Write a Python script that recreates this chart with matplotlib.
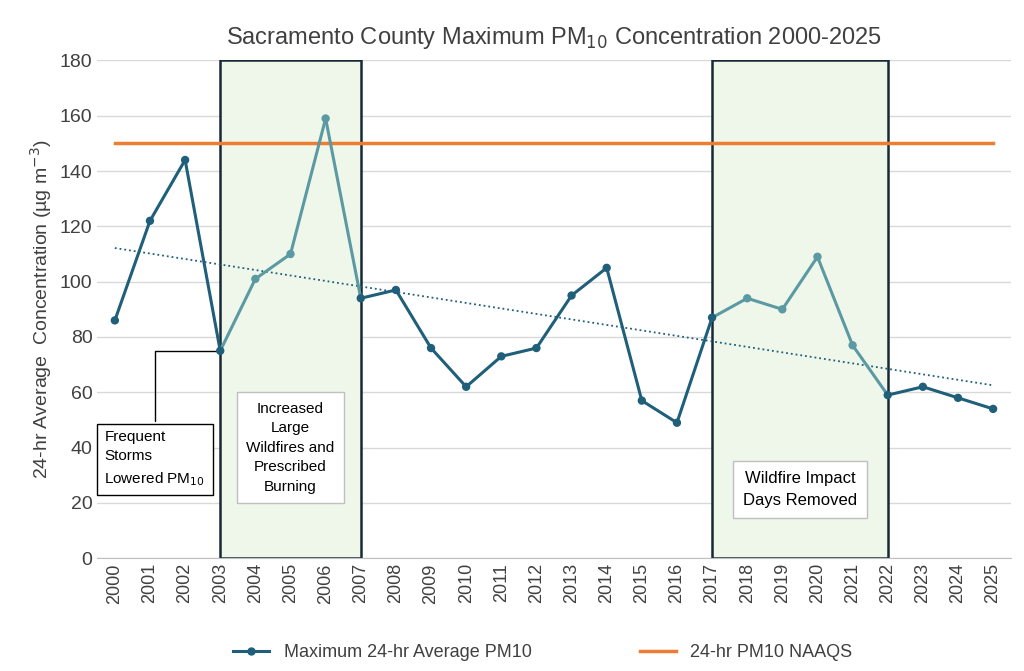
import numpy as np
import matplotlib.pyplot as plt
from matplotlib.patches import Rectangle

years = list(range(2000, 2026))
pm10 = [86, 122, 144, 75, 101, 110, 159, 94, 97, 76, 62, 73, 76, 95, 105,
        57, 49, 87, 94, 90, 109, 77, 59, 62, 58, 54]
naaqs = 150
shaded = [(2003, 2007), (2017, 2022)]

dark = '#1f5f7a'
light = '#5b9aa3'
orange = '#ed7d31'

plt.rcParams['font.family'] = ['Liberation Sans', 'DejaVu Sans']
fig = plt.figure(figsize=(10.24, 6.71), dpi=100)
ax = fig.add_axes([0.095, 0.168, 0.892, 0.742])

x = np.arange(len(years))
for i in range(len(years) - 1):
    y0 = years[i]
    inside = any(a <= y0 and y0 + 1 <= b for a, b in shaded)
    ax.plot(x[i:i + 2], pm10[i:i + 2], color=light if inside else dark, lw=2.2, zorder=3)
cols = [light if any(a < y < b for a, b in shaded) else dark for y in years]
ax.scatter(x, pm10, s=25, color=cols, zorder=4)
ax.plot([], [], color=dark, lw=2.2, marker='o', ms=5, label='Maximum 24-hr Average PM10')

ax.plot([x[0], x[-1]], [naaqs, naaqs], color=orange, lw=2.5, zorder=2, label='24-hr PM10 NAAQS')

k, b = np.polyfit(x, pm10, 1)
ax.plot(x, k * x + b, ':', color=dark, lw=1.3, zorder=2)

for a, bb in shaded:
    ax.add_patch(Rectangle((years.index(a), 0), bb - a, 180, facecolor='#eef7ea',
                           edgecolor='#152a36', lw=1.8, zorder=1))

ax.set_xlim(-0.5, len(years) - 0.5)
ax.set_ylim(0, 180)
ax.set_yticks(range(0, 181, 20))
ax.set_xticks(x)
ax.set_xticklabels(years, rotation=90, fontsize=13, color='#404040')
ax.tick_params(axis='y', labelsize=14, colors='#404040', length=0)
ax.tick_params(axis='x', length=0)
ax.grid(axis='y', color='#d9d9d9', lw=1)
ax.set_axisbelow(True)
for s in ['top', 'right', 'left']:
    ax.spines[s].set_visible(False)
ax.spines['bottom'].set_color('#bfbfbf')
ax.set_ylabel('24-hr Average  Concentration (µg m$^{-3}$)', fontsize=14, color='#404040')
ax.set_title('Sacramento County Maximum PM$_{10}$ Concentration 2000-2025',
             fontsize=17, color='#404040', pad=12)

box = dict(boxstyle='square,pad=0.5', facecolor='white', edgecolor='black', lw=1)
ax.annotate('Frequent\nStorms\nLowered PM$_{10}$', xy=(3, 75), xytext=(-0.3, 36),
            fontsize=11, ha='left', va='center', bbox=box, linespacing=1.5,
            arrowprops=dict(arrowstyle='-', color='black', lw=1,
                            connectionstyle='angle,angleA=90,angleB=0'))
ax.text(5.0, 40, 'Increased\nLarge\nWildfires and\nPrescribed\nBurning', fontsize=11,
        ha='center', va='center', linespacing=1.5,
        bbox=dict(boxstyle='square,pad=0.6', facecolor='white', edgecolor='#bfbfbf', lw=1))
ax.text(19.5, 25, 'Wildfire Impact\nDays Removed', fontsize=12, ha='center', va='center',
        linespacing=1.6,
        bbox=dict(boxstyle='square,pad=0.6', facecolor='white', edgecolor='#bfbfbf', lw=1))

fig.legend(loc='lower center', ncol=2, frameon=False, fontsize=13, columnspacing=6,
           bbox_to_anchor=(0.53, -0.01), labelcolor='#404040')
fig.savefig('out.png', dpi=100)
